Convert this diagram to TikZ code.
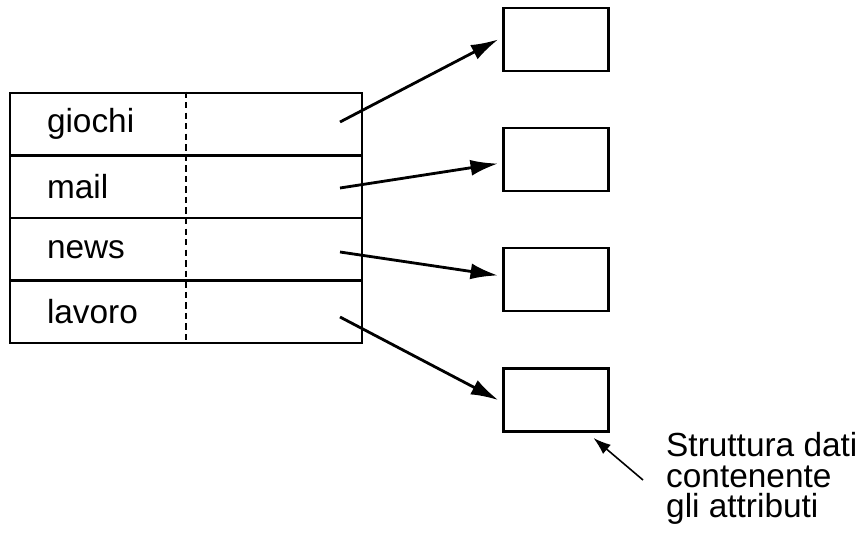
\documentclass[tikz,border=0pt]{standalone}
\usepackage{fontspec}
\setmainfont{Liberation Sans}
\usetikzlibrary{arrows.meta}
\tikzset{
  entry/.style={
    draw,
    line width=1.7pt,
    minimum height=1.25cm,
    text width=5.56cm,
    inner xsep=0.74cm,
    align=left,
    font=\fontsize{19}{22}\selectfont
  },
%
  attrbox/.style={
    draw,
    line width=1.7pt,
    minimum width=2.1cm,
    minimum height=1.26cm
  },
%
  pointer/.style={
    line width=1.6pt,
    -{Latex[length=5.5mm,width=3.2mm]},
    shorten >=2pt
  },
%
  note/.style={
    line width=0.9pt,
    -{Latex[length=3.5mm,width=2.4mm]}
  },
}

\begin{document}
\begin{tikzpicture}
\useasboundingbox (0,0) rectangle (17.32,-10.92);

\node[entry] at (3.72,-2.485) (giochi) {giochi};
\node[entry] at (3.72,-3.735) (mail) {mail};
\node[entry] at (3.72,-4.985) (news) {news};
\node[entry] at (3.72,-6.235) (lavoro) {lavoro};
\draw[dash pattern=on 3.6pt off 2.4pt, line width=0.8pt] (giochi.north) -- (lavoro.south);

\node[attrbox] at (11.11,-0.79) (attr1) {};
\node[attrbox] at (11.11,-3.19) (attr2) {};
\node[attrbox] at (11.11,-5.59) (attr3) {};
\node[attrbox] at (11.11,-8.0) (attr4) {};

\coordinate (p1) at (6.8,-2.44);
\coordinate (p2) at (6.8,-3.76);
\coordinate (p3) at (6.8,-5.04);
\coordinate (p4) at (6.8,-6.34);
\draw[pointer] (p1) -- ([yshift=1pt]attr1.west);
\draw[pointer] (p2) -- ([yshift=-2pt]attr2.west);
\draw[pointer] (p3) -- ([yshift=2pt]attr3.west);
\draw[pointer] (p4) -- ([yshift=-1pt]attr4.west);

\node[anchor=north west, align=left, font=\fontsize{19}{17.5}\selectfont] at (13.2,-8.52) (info) {Struttura dati\\contenente\\gli attributi};
\coordinate (q) at (12.86,-9.6);
\draw[note] (q) -- ([shift={(-0.32,-0.1)}]attr4.south east);

\end{tikzpicture}
\end{document}
